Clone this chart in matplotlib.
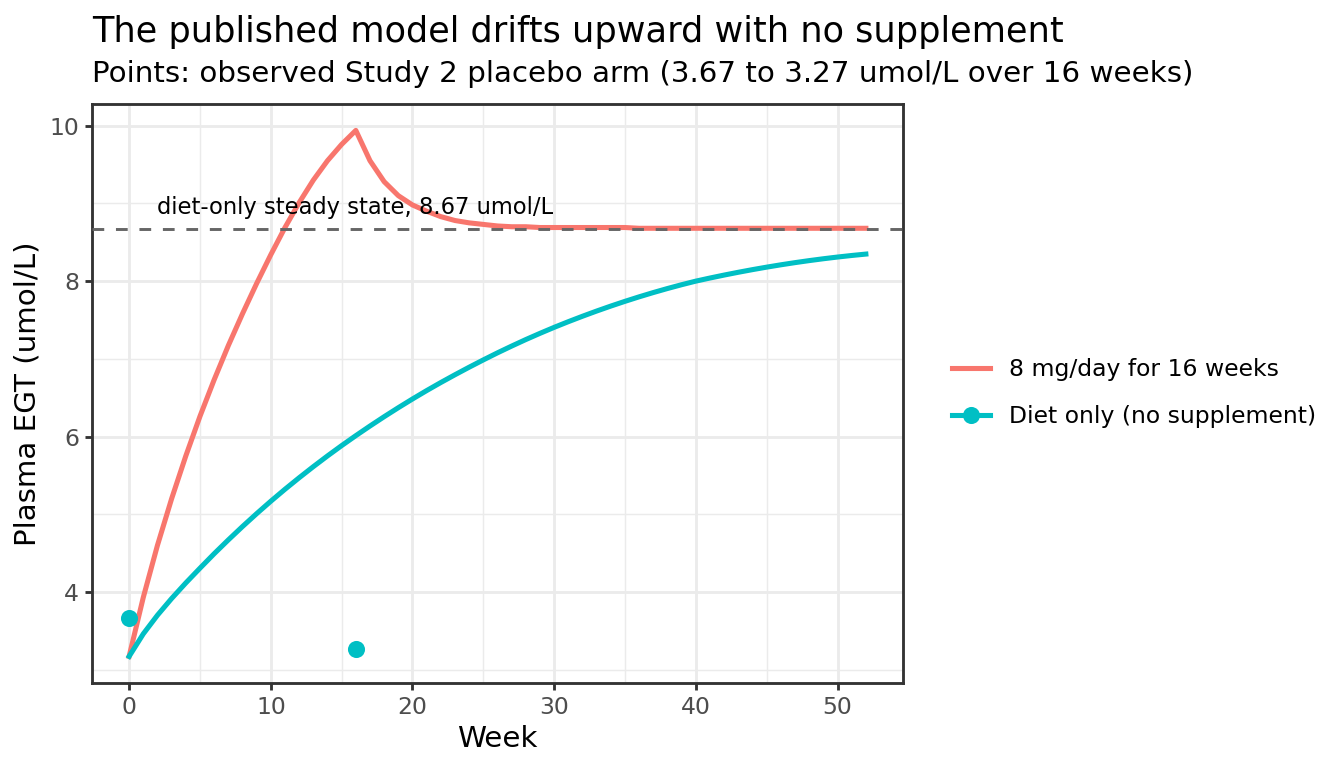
import matplotlib
matplotlib.use("Agg")
import matplotlib.pyplot as plt
from matplotlib.lines import Line2D

# values (weekly model output, umol/L)
weeks = list(range(0, 53))
supp_8mg = [
    3.17, 3.93, 4.60, 5.20, 5.75, 6.26, 6.73, 7.17, 7.58, 7.97,
    8.34, 8.69, 9.01, 9.30, 9.55, 9.76, 9.94, 9.55, 9.28, 9.10,
    8.98, 8.90, 8.83, 8.78, 8.75, 8.73, 8.71, 8.70, 8.70, 8.69,
    8.69, 8.69, 8.69, 8.69, 8.69, 8.69, 8.68, 8.68, 8.68, 8.68,
    8.68, 8.68, 8.68, 8.68, 8.68, 8.68, 8.68, 8.68, 8.68, 8.68,
    8.68, 8.68, 8.68,
]
diet_only = [
    3.170, 3.460, 3.700, 3.915, 4.115, 4.305, 4.491, 4.669, 4.841, 5.007,
    5.167, 5.321, 5.469, 5.612, 5.750, 5.883, 6.011, 6.135, 6.255, 6.371,
    6.483, 6.591, 6.695, 6.795, 6.892, 6.986, 7.077, 7.164, 7.248, 7.328,
    7.405, 7.478, 7.548, 7.615, 7.679, 7.740, 7.798, 7.853, 7.905, 7.954,
    8.000, 8.040, 8.078, 8.114, 8.148, 8.180, 8.210, 8.238, 8.264, 8.288,
    8.310, 8.330, 8.348,
]
obs_weeks = [0, 16]
obs_egt = [3.67, 3.27]
steady_state = 8.67

series_labels = ["8 mg/day for 16 weeks", "Diet only (no supplement)"]
RED = "#F8766D"
TEAL = "#00BFC4"

W, H = 1344, 768
fig = plt.figure(figsize=(7, 4), dpi=192)
ax = fig.add_axes([92.3 / W, 1 - 682.7 / H, (902.7 - 92.3) / W, (682.7 - 104.3) / H])

ax.plot(weeks, supp_8mg, color=RED, lw=1.9, zorder=3)
ax.plot(weeks, diet_only, color=TEAL, lw=1.9, zorder=3)
ax.plot(obs_weeks, obs_egt, "o", color=TEAL, ms=6.4, mew=0, zorder=4)
ax.axhline(steady_state, color="#666666", lw=1.1, ls=(0, (4, 4)), zorder=5)
ax.text(2.0, steady_state + 0.19, f"diet-only steady state, {steady_state:.2f} umol/L",
        fontsize=8.5, ha="left", va="baseline", zorder=6)

ax.set_xlim(-2.6, 54.6)
ax.set_ylim(2.831, 10.276)
ax.set_xticks([0, 10, 20, 30, 40, 50])
ax.set_xticks([5, 15, 25, 35, 45], minor=True)
ax.set_yticks([4, 6, 8, 10])
ax.set_yticks([3, 5, 7, 9], minor=True)
ax.grid(which="major", color="#EBEBEB", lw=1.066, zorder=0)
ax.grid(which="minor", color="#EBEBEB", lw=0.53, zorder=0)
ax.set_axisbelow(True)
ax.tick_params(which="major", length=2.75, width=1.066,
               color="#333333", labelcolor="#4D4D4D", labelsize=8.8, pad=2.2)
ax.tick_params(which="minor", length=0)
for sp in ax.spines.values():
    sp.set_color("#333333")
    sp.set_linewidth(1.066)

fig.text(92.3 / W, 1 - 41.7 / H, "The published model drifts upward with no supplement",
         fontsize=13.2, va="baseline", ha="left")
fig.text(92.3 / W, 1 - 82.3 / H,
         "Points: observed Study 2 placebo arm (3.67 to 3.27 umol/L over 16 weeks)",
         fontsize=11, va="baseline", ha="left")
fig.text(497.5 / W, 1 - 746.7 / H, "Week", fontsize=11, va="baseline", ha="center")
fig.text(28 / W, 1 - 393.5 / H, "Plasma EGT (umol/L)", fontsize=11, rotation=90,
         va="center", ha="center")

handles = [
    Line2D([], [], color=RED, lw=1.9),
    Line2D([], [], color=TEAL, lw=1.9, marker="o", ms=6.4, mew=0),
]
fig.legend(handles, series_labels, loc="center left",
           bbox_to_anchor=(952 / W, 1 - 393 / H), frameon=False, fontsize=8.8,
           handlelength=1.62, handletextpad=0.81, labelspacing=1.0,
           borderpad=0, borderaxespad=0)

fig.savefig("out.png", dpi=192)
